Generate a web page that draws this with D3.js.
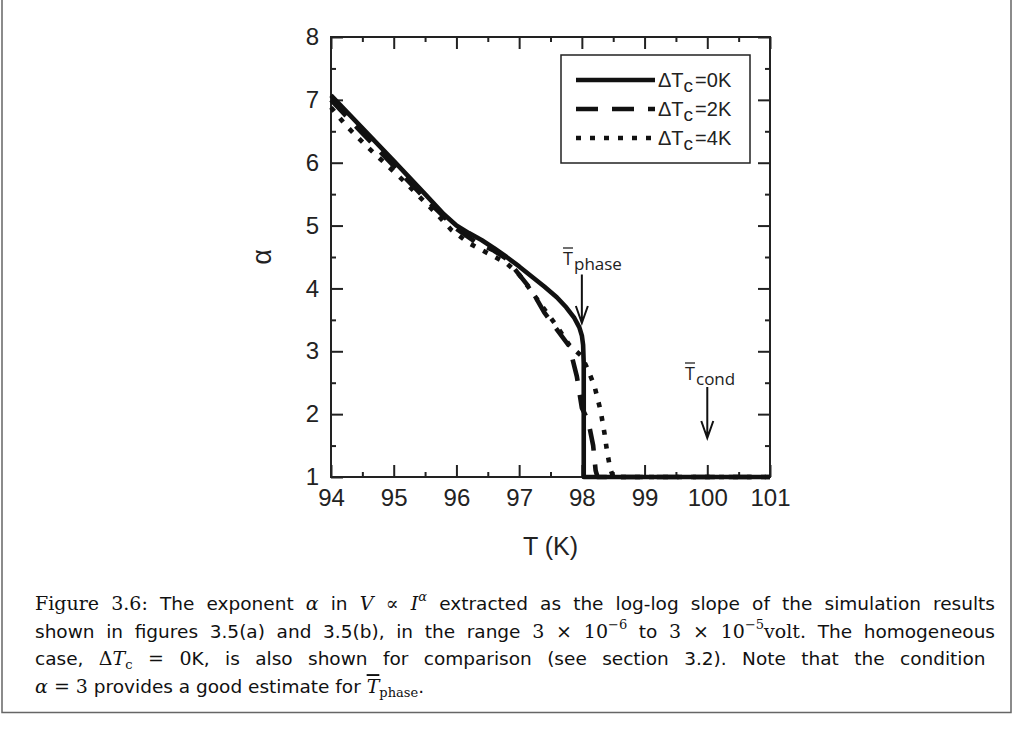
<!DOCTYPE html>
<html>
<head>
<meta charset="utf-8">
<script src="https://cdn.jsdelivr.net/npm/d3@7"></script>
<style>
  html, body { margin: 0; padding: 0; background: #fff; }
  svg { display: block; }
  .tick text { font-family: 'Liberation Sans', Arial, sans-serif; font-size: 24px; fill: #222; }
  .tick line { stroke: #222; stroke-width: 2; }
  .note { font-family: 'Open Sans', sans-serif; fill: #222; }
</style>
</head>
<body>
<svg id="chart" width="1017" height="742"></svg>
<script>
// tick values of the two axes
const tempTicks = [94, 95, 96, 97, 98, 99, 100, 101]
const tempMinor = [94.5, 95.5, 96.5, 97.5, 98.5, 99.5, 100.5]
const alphaTicks = [1, 2, 3, 4, 5, 6, 7, 8]
const alphaMinor = [1.5, 2.5, 3.5, 4.5, 5.5, 6.5, 7.5]

// ΔTc = 0K (homogeneous case)
const tempSolid = [94, 94.5, 95, 95.5, 95.8, 96, 96.2, 96.4, 96.6, 96.8, 97.0, 97.2, 97.4, 97.6, 97.75, 97.88, 97.96, 98.0, 98.02, 98.03, 98.03, 101]
const alphaSolid = [7.07, 6.55, 6.03, 5.5, 5.18, 5.0, 4.88, 4.77, 4.64, 4.5, 4.35, 4.19, 4.03, 3.86, 3.7, 3.53, 3.38, 3.25, 3.1, 2.8, 1.0, 1.0]

// ΔTc = 2K
const tempDashed = [94, 94.5, 95, 95.5, 96, 96.3, 96.6, 96.8, 97.0, 97.2, 97.4, 97.6, 97.8, 97.92, 98.0, 98.1, 98.18, 98.22, 98.25, 101]
const alphaDashed = [7.0, 6.47, 5.95, 5.43, 4.95, 4.74, 4.6, 4.47, 4.22, 3.97, 3.62, 3.35, 3.08, 2.6, 2.1, 1.9, 1.5, 1.1, 1.0, 1.0]

// ΔTc = 4K
const tempDotted = [94, 94.25, 94.55, 94.85, 95.15, 95.4, 95.67, 95.92, 96.2, 96.5, 96.8, 97.0, 97.2, 97.4, 97.6, 97.8, 98.0, 98.1, 98.2, 98.3, 98.36, 98.4, 98.45, 98.5, 101]
const alphaDotted = [6.88, 6.58, 6.28, 6.0, 5.72, 5.47, 5.2, 4.93, 4.72, 4.56, 4.4, 4.22, 3.95, 3.67, 3.4, 3.1, 2.92, 2.7, 2.45, 2.05, 1.7, 1.42, 1.14, 1.0, 1.0]

const seriesNames = ['0K', '2K', '4K']
const seriesDash = [null, '22,14', '5,9']

const svg = d3.select('#chart')
const x = d3.scaleLinear().domain([94, 101]).range([331, 770])
const y = d3.scaleLinear().domain([1, 8]).range([477, 37])

/**
 * Draws the frame with inward major and minor ticks on all four sides.
 */
function drawAxes () {
  const specs = [
    [d3.axisBottom(x), 'translate(0,' + y(1) + ')', tempTicks, tempMinor, true],
    [d3.axisTop(x), 'translate(0,' + y(8) + ')', tempTicks, tempMinor, false],
    [d3.axisLeft(y), 'translate(' + x(94) + ',0)', alphaTicks, alphaMinor, true],
    [d3.axisRight(y), 'translate(' + x(101) + ',0)', alphaTicks, alphaMinor, false]
  ]
  specs.forEach(([axis, transform, major, minor, labels]) => {
    svg.append('g')
      .attr('transform', transform)
      .call(axis.tickValues(major).tickSize(-12).tickPadding(labels ? 12 : 0)
        .tickFormat(labels ? d3.format('d') : ''))
      .call(g => g.select('.domain').remove())
    svg.append('g')
      .attr('transform', transform)
      .call(axis.tickValues(minor).tickSize(-5).tickFormat(''))
      .call(g => g.select('.domain').remove())
  })
  svg.append('rect')
    .attr('x', x(94)).attr('y', y(8))
    .attr('width', x(101) - x(94)).attr('height', y(1) - y(8))
    .attr('fill', 'none').attr('stroke', '#222').attr('stroke-width', 2)

  svg.append('text')
    .text('T (K)')
    .attr('x', (x(94) + x(101)) / 2).attr('y', 555)
    .attr('text-anchor', 'middle')
    .attr('font-family', 'Liberation Sans, Arial, sans-serif')
    .attr('font-size', 25).attr('fill', '#222')

  svg.append('text')
    .text('α')
    .attr('transform', 'translate(271,' + (y(4.5)) + ') rotate(-90)')
    .attr('text-anchor', 'middle')
    .attr('font-family', 'Liberation Sans, Arial, sans-serif')
    .attr('font-size', 27).attr('fill', '#222')
}

/**
 * Draws the three curves, dotted first so the solid one stays on top.
 */
function drawCurves () {
  const line = d3.line().x(d => x(d[0])).y(d => y(d[1]))
  const data = [
    d3.zip(tempSolid, alphaSolid),
    d3.zip(tempDashed, alphaDashed),
    d3.zip(tempDotted, alphaDotted)
  ]
  ;[2, 1, 0].forEach(i => {
    svg.append('path')
      .datum(data[i])
      .attr('d', line)
      .attr('fill', 'none')
      .attr('stroke', '#111')
      .attr('stroke-width', 4.6)
      .attr('stroke-linejoin', 'round')
      .attr('stroke-dasharray', seriesDash[i])
  })
}

/**
 * Draws the legend box in the upper right corner.
 */
function drawLegend () {
  svg.append('rect')
    .attr('x', 561).attr('y', 55).attr('width', 189).attr('height', 108)
    .attr('fill', '#fff').attr('stroke', '#222').attr('stroke-width', 1.5)

  seriesNames.forEach((name, i) => {
    const ly = 80 + i * 29
    svg.append('line')
      .attr('x1', 576).attr('x2', 655).attr('y1', ly).attr('y2', ly)
      .attr('stroke', '#111').attr('stroke-width', 4.6)
      .attr('stroke-dasharray', seriesDash[i])
    const t = svg.append('text')
      .attr('x', 658).attr('y', ly + 7)
      .attr('font-family', 'Liberation Sans, Arial, sans-serif')
      .attr('font-size', 20).attr('fill', '#222')
    t.append('tspan').text('ΔT')
    t.append('tspan').text('c').attr('font-size', 19).attr('dy', 5)
    t.append('tspan').text('=' + name).attr('dy', -5).attr('dx', 2)
  })
}

/**
 * Draws an annotation: an overlined T with a subscript and a down arrow.
 */
function drawMarker (temp, label, lx, ly, top, tip) {
  const t = svg.append('text')
    .attr('class', 'note').attr('x', lx).attr('y', ly)
    .attr('font-size', 18).text('T')
  const box = t.node().getBBox()
  svg.append('line')
    .attr('x1', box.x).attr('x2', box.x + box.width)
    .attr('y1', ly - 17).attr('y2', ly - 17)
    .attr('stroke', '#222').attr('stroke-width', 1.3)
  svg.append('text')
    .attr('class', 'note').attr('x', box.x + box.width + 1).attr('y', ly + 5)
    .attr('font-size', 17).text(label)

  const ax = x(temp)
  svg.append('path')
    .attr('d', 'M' + ax + ',' + y(top) + 'V' + y(tip) +
      'M' + (ax - 6) + ',' + (y(tip) - 17) + 'L' + ax + ',' + y(tip) +
      'L' + (ax + 6) + ',' + (y(tip) - 17))
    .attr('fill', 'none').attr('stroke', '#111').attr('stroke-width', 2)
}

const fonts = {
  ss: ['DejaVu Sans, sans-serif', 'normal', 18.5, 0],
  rm: ['DejaVu Serif, serif', 'normal', 19, 0],
  it: ['DejaVu Serif, serif', 'italic', 19, 0],
  supit: ['DejaVu Serif, serif', 'italic', 13, -9],
  suprm: ['DejaVu Serif, serif', 'normal', 13, -9],
  subrm: ['DejaVu Serif, serif', 'normal', 13, 4],
  ovit: ['DejaVu Serif, serif', 'italic', 19, 0]
}

// caption lines as [text, style] pieces
const captionLines = [
  [['Figure 3.6:', 'rm'], [' The exponent ', 'ss'], ['α', 'it'], [' in ', 'ss'], ['V', 'it'],
    [' ∝ ', 'rm'], ['I', 'it'], ['α', 'supit'], [' extracted as the log-log slope of the simulation results', 'ss']],
  [['shown in figures 3.5(a) and 3.5(b), in the range ', 'ss'], ['3 × 10', 'rm'], ['−6', 'suprm'],
    [' to ', 'ss'], ['3 × 10', 'rm'], ['−5', 'suprm'], ['volt.', 'rm'], [' The homogeneous', 'ss']],
  [['case, ', 'ss'], ['Δ', 'rm'], ['T', 'it'], ['c', 'subrm'], [' = 0', 'rm'],
    ['K, is also shown for comparison (see section  3.2). Note that the condition', 'ss']],
  [['α', 'it'], [' = 3', 'rm'], [' provides a good estimate for ', 'ss'], ['T', 'ovit'], ['phase', 'subrm'], ['.', 'ss']]
]

/**
 * Writes the figure caption, justifying all lines but the last.
 */
function drawCaption () {
  captionLines.forEach((parts, i) => {
    const text = svg.append('text')
      .attr('x', 35).attr('y', 610 + i * 27.7)
      .attr('fill', '#111')
    let shift = 0
    parts.forEach(([str, kind]) => {
      const f = fonts[kind]
      const span = text.append('tspan').text(str)
        .attr('font-family', f[0]).attr('font-style', f[1]).attr('font-size', f[2])
        .attr('dy', f[3] - shift)
      if (kind === 'ovit') span.attr('text-decoration', 'overline')
      shift = f[3]
    })
    if (i < captionLines.length - 1) {
      const natural = text.node().getComputedTextLength()
      const spaces = (text.text().match(/ /g) || []).length
      text.attr('word-spacing', (960 - natural) / spaces)
    }
  })

  svg.append('path')
    .attr('d', 'M2,0V712.5H1011V0')
    .attr('fill', 'none').attr('stroke', '#666').attr('stroke-width', 1.5)
}

drawAxes()
drawCurves()
drawLegend()
drawMarker(98.0, 'phase', 563, 265, 4.22, 3.45)
drawMarker(100, 'cond', 685, 380, 2.43, 1.62)
drawCaption()
</script>
</body>
</html>
